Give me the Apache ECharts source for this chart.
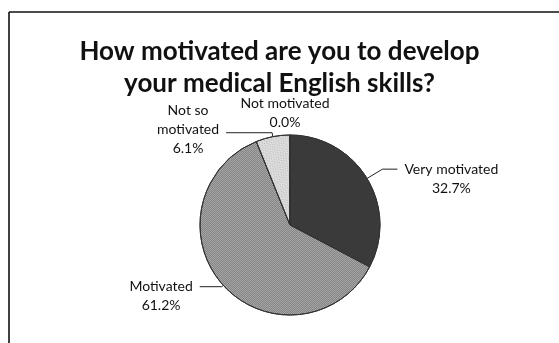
<!DOCTYPE html>
<html><head><meta charset="utf-8">
<script src="https://cdn.jsdelivr.net/npm/echarts@6/dist/echarts.min.js"></script>
<style>html,body{margin:0;padding:0;background:#fff}#c{width:559px;height:343px}</style>
</head><body><div id="c"></div>
<script>
const titleText = "How motivated are you to develop\nyour medical English skills?";
const categories = ["Very motivated", "Motivated", "Not so motivated", "Not motivated"];
const labelLines = [["Very motivated"], ["Motivated"], ["Not so", "motivated"], ["Not motivated"]];
const values = [32.7, 61.2, 6.1, 0.0];
const colors = ["#3a3a3a", "#a4a4a4", "#dcdcdc", "#ffffff"];

const LH = 19;
const lineCfg = [
  {length: 18, length2: 15, show: true},
  {length: 2, length2: 22, show: true},
  {length: 4, length2: 46, show: true},
  {length: 22, length2: 0, show: false}
];
const padTop = [LH, LH, 0, 0];
const padBottom = [0, 0, 6, 0];

const chart = echarts.init(document.getElementById('c'), null, {renderer: 'canvas'});
const decals = [
  {symbol: 'rect', symbolSize: 1, dashArrayX: [1, 0], dashArrayY: [[2, 2]], rotation: 0, color: 'rgba(0,0,0,0.35)'},
  {symbol: 'rect', symbolSize: 1, dashArrayX: [[1, 1], [0, 1, 1, 0]], dashArrayY: [1, 0], color: 'rgba(0,0,0,0.18)'},
  {symbol: 'rect', symbolSize: 1, dashArrayX: [[1, 2], [0, 1, 1, 1]], dashArrayY: [1, 1], color: 'rgba(0,0,0,0.15)'},
  null
];
chart.setOption({
  backgroundColor: '#fff',
  animation: false,
  title: {
    text: titleText, left: 'center', top: 31,
    textStyle: {fontFamily: 'Lato', fontWeight: 'bold', fontSize: 26, color: '#111', lineHeight: 32}
  },
  graphic: [
    {type: 'line', shape: {x1: 9, y1: 12, x2: 559, y2: 12}, style: {stroke: '#111', lineWidth: 1.6}},
    {type: 'line', shape: {x1: 9, y1: 12, x2: 9, y2: 343}, style: {stroke: '#111', lineWidth: 1.6}}
  ],
  series: [{
    type: 'pie',
    center: [290, 225],
    radius: 90,
    startAngle: 90,
    clockwise: true,
    minShowLabelAngle: 0,
    minAngle: 0,
    avoidLabelOverlap: false,
    data: categories.map((c, i) => ({
      name: c, value: values[i],
      itemStyle: {color: colors[i], decal: decals[i] || undefined},
      label: {
        formatter: labelLines[i].concat([values[i].toFixed(1) + '%']).map(s => '{c|' + s + '}').join('\n'),
        padding: [padTop[i], 2, padBottom[i], 2]
      },
      labelLine: lineCfg[i]
    })),
    itemStyle: {borderColor: '#333', borderWidth: 1},
    label: {
      show: true, position: 'outside', fontFamily: 'Lato', fontSize: 14, color: '#111',
      lineHeight: LH,
      rich: {c: {align: 'center', fontFamily: 'Lato', fontSize: 14, color: '#111', lineHeight: LH}}
    },
    labelLine: {lineStyle: {color: '#222', width: 1}},
    labelLayout: function (p) {
      if (p.dataIndex === 3) return {align: 'center'};
      return {};
    },
    emphasis: {disabled: true}
  }],
  aria: {enabled: true, decal: {show: true}}
});
</script></body></html>
